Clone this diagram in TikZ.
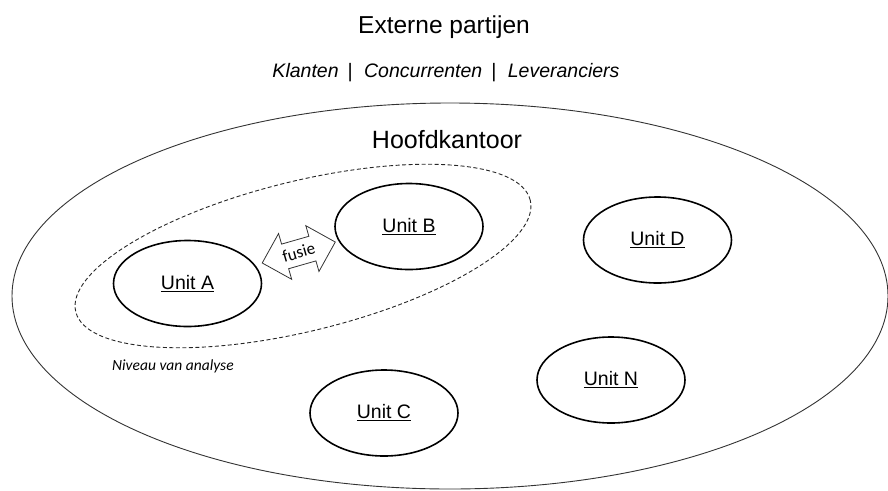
\documentclass[tikz,border=0pt]{standalone}
\usepackage{fontspec}
\setmainfont{Liberation Sans}
\newfontfamily\calibrifont{Carlito}
\usetikzlibrary{shapes.geometric}
\usetikzlibrary{shapes.arrows}
\usetikzlibrary{calc}
\tikzset{
	unitstyle/.style={ellipse, draw=black, line width=1.6pt, inner sep=0pt,
		minimum width=148pt, minimum height=86pt,
		font=\fontsize{19.5}{23}\selectfont},
	fusiestyle/.style={double arrow, draw=black!80, line width=0.8pt,
		double arrow head extend=11pt, inner xsep=0pt, inner ysep=6.5pt,
		minimum height=76pt, font=\calibrifont\fontsize{17}{20}\selectfont},
	titlestyle/.style={anchor=base, inner sep=0pt}
}
\newcommand{\unitname}[1]{\underline{#1}}

\begin{document}
\begin{tikzpicture}[x=1pt, y=-1pt]
\useasboundingbox (0,0) rectangle (888,490);

% outside
\node[titlestyle, font=\fontsize{24.5}{28}\selectfont] (extern) at (444, 33) {Externe partijen};
\node[titlestyle, font=\itshape\fontsize{19.5}{23}\selectfont] (partijen) at (446, 77)
	{Klanten\hspace{0.45em}|\hspace{0.6em}Concurrenten\hspace{0.45em}|\hspace{0.6em}Leveranciers};

% head office
\node[ellipse, draw=black!80, line width=0.9pt, minimum width=876pt, minimum height=386pt] (hq) at (450, 296) {};
\node[titlestyle, font=\fontsize{25}{29}\selectfont] (hqlabel) at (447, 148) {Hoofdkantoor};

% level of analysis
\node[ellipse, draw=black!85, line width=0.9pt, dash pattern=on 4pt off 2.5pt,
	rotate=13.8, minimum width=468pt, minimum height=150pt] (niveau) at (303, 256) {};
\node[anchor=base west, inner sep=0pt, font=\calibrifont\itshape\fontsize{15.5}{18}\selectfont] (niveaulabel) at (112, 370) {Niveau van analyse};

% units
\node[unitstyle] (unitA) at (187.5, 283.5) {\unitname{Unit A}};
\node[unitstyle] (unitB) at (409, 226.5)   {\unitname{Unit B}};
\node[unitstyle] (unitC) at (384, 413)     {\unitname{Unit C}};
\node[unitstyle] (unitD) at (657.5, 240)   {\unitname{Unit D}};
\node[unitstyle] (unitN) at (611, 380)     {\unitname{Unit N}};

% merger
\node[fusiestyle, rotate=16] (fusie) at ($(unitA)!0.5!(unitB) + (0.5,-2.5)$) {fusie};
\end{tikzpicture}
\end{document}
